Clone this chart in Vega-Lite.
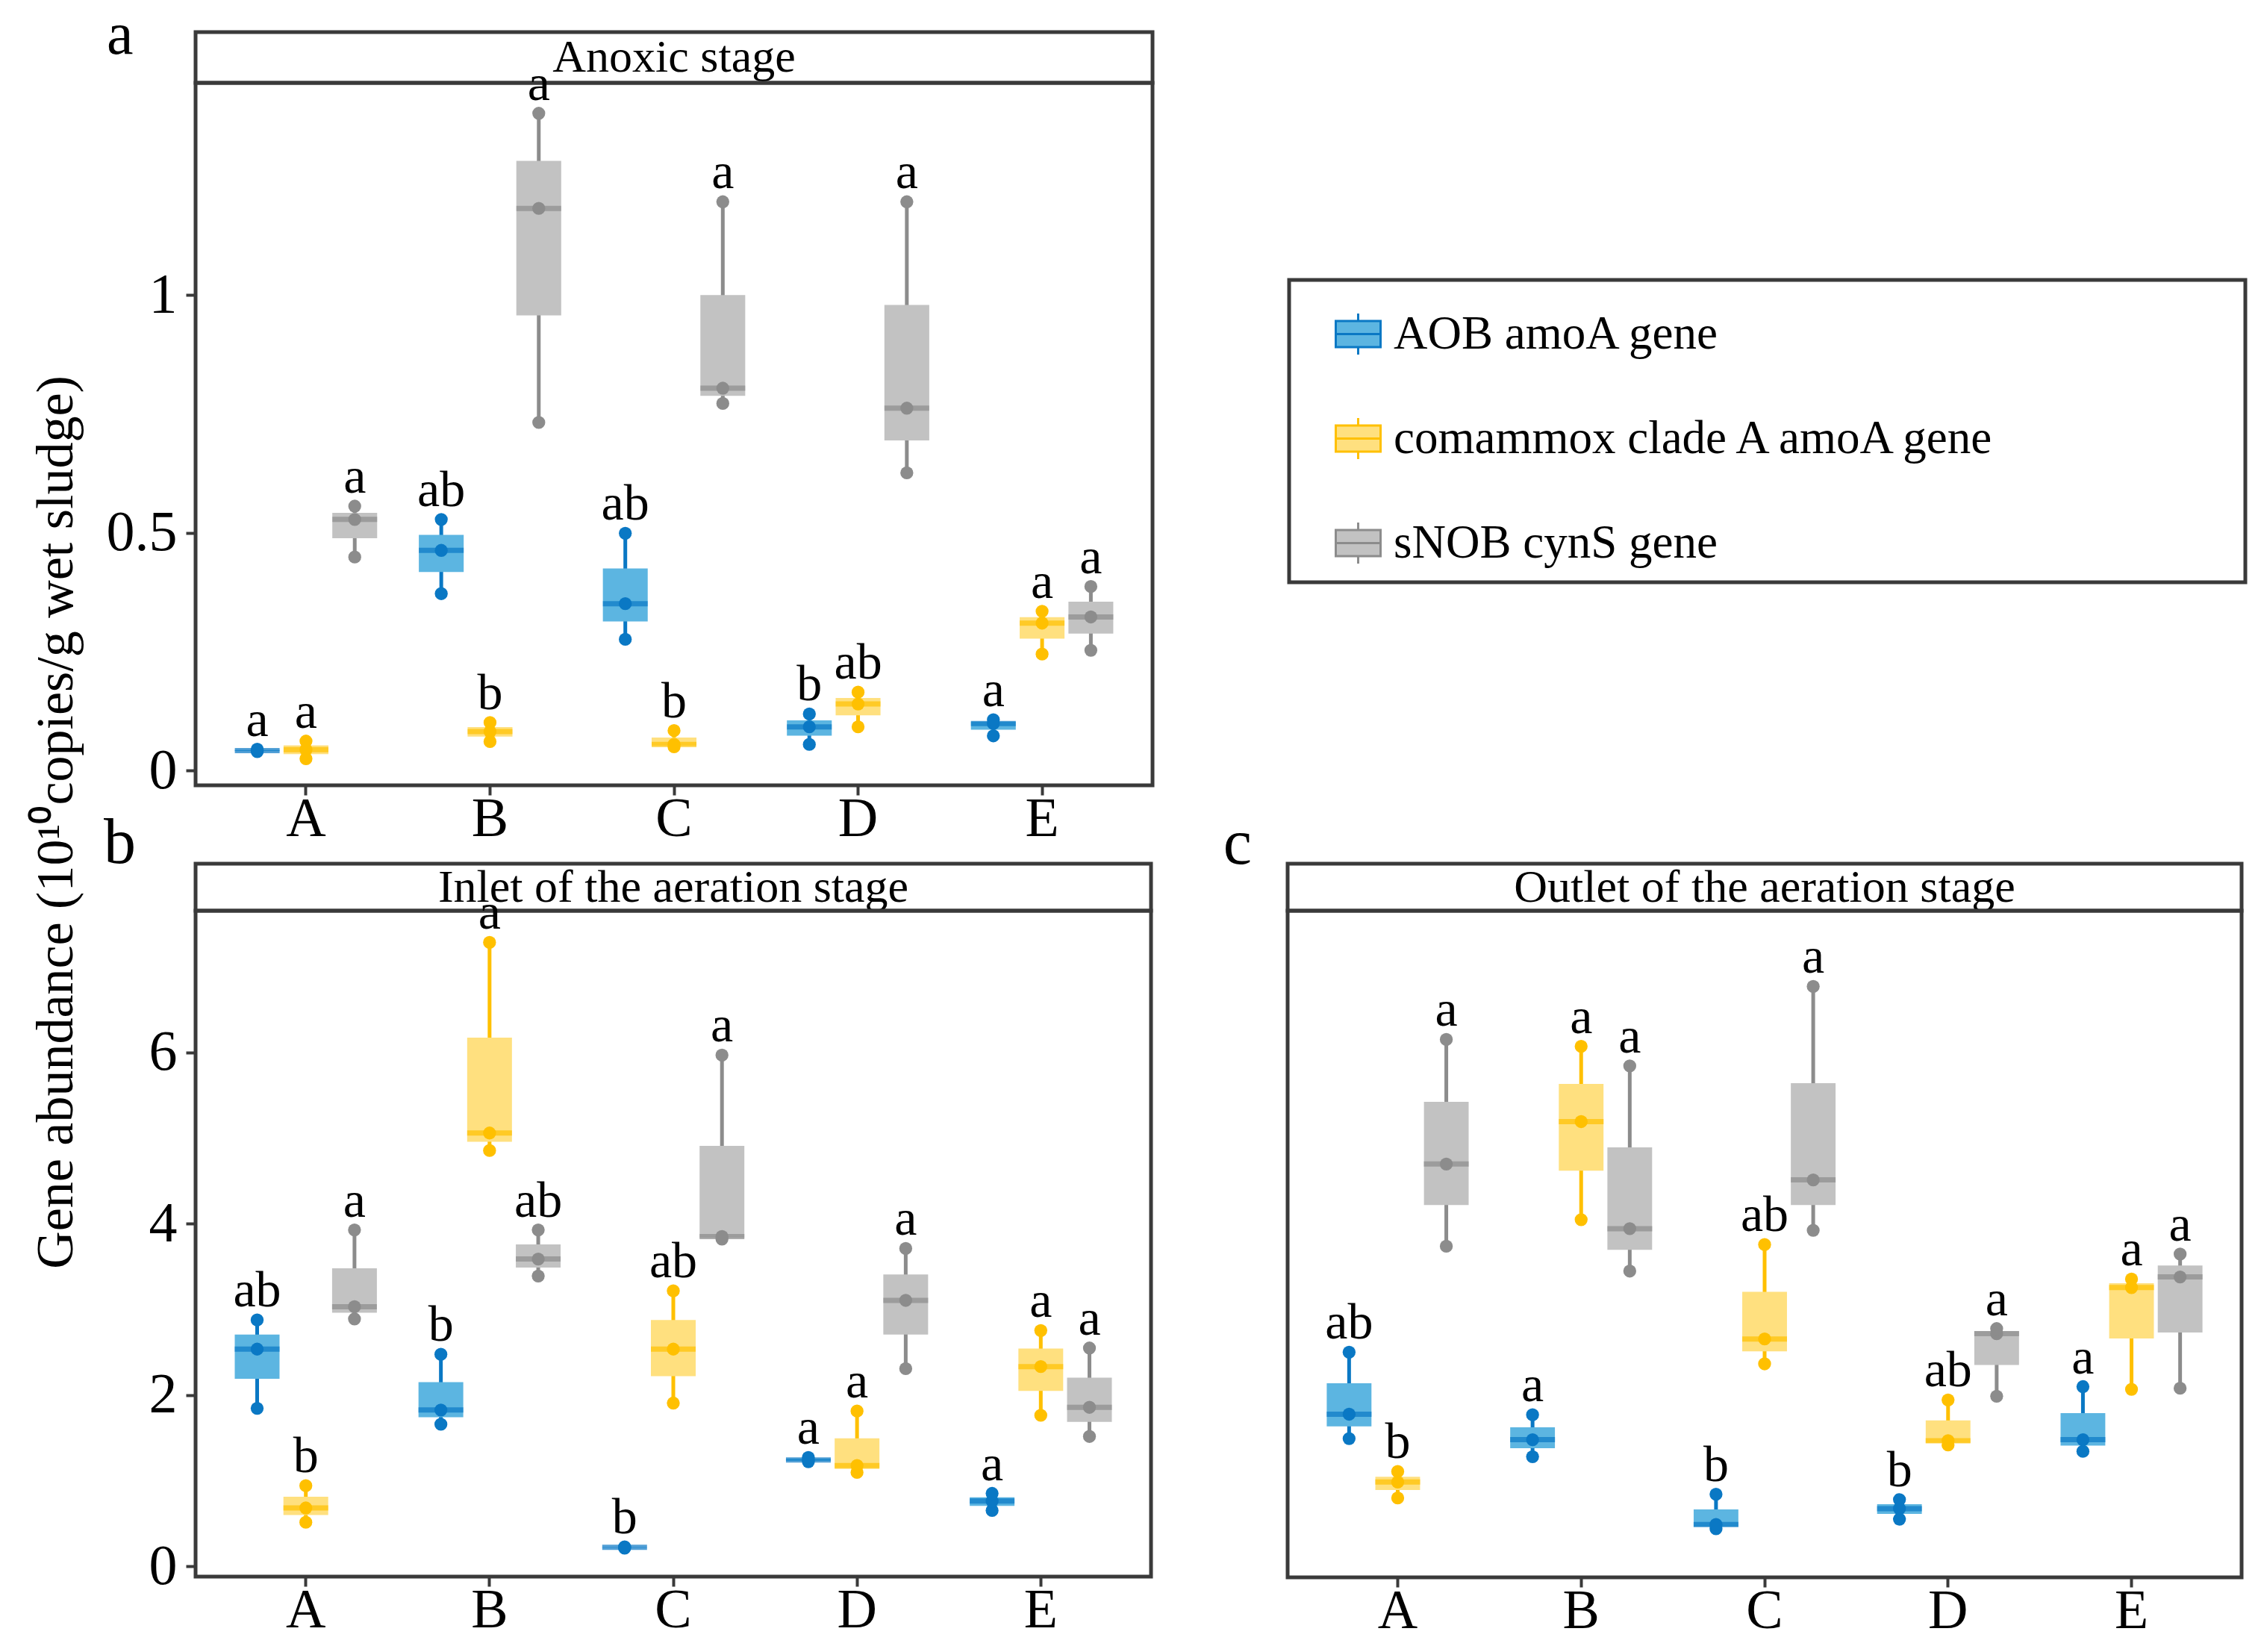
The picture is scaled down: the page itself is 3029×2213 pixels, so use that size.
{
  "$schema": "https://vega.github.io/schema/vega-lite/v6.json",
  "padding": {"left": 40, "top": 5, "right": 0, "bottom": 0},
  "background": "white",
  "config": {
    "font": "Liberation Serif",
    "view": {"stroke": "#3a3a3a", "strokeWidth": 5},
    "axis": {"domain": false, "grid": false, "tickColor": "#3a3a3a", "tickWidth": 4, "tickSize": 13, "labelFont": "Liberation Serif", "labelFontSize": 76, "labelColor": "#000000"},
    "title": {"font": "Liberation Serif", "fontWeight": "normal", "color": "#000000"},
    "text": {"font": "Liberation Serif"}
  },
  "title": {"text": "Gene abundance (10¹⁰copies/g wet sludge)", "orient": "left", "anchor": "middle", "fontSize": 70, "offset": 25},
  "datasets": {
    "abund": [
      {"panel": "a", "site": "A", "gene": "AOB amoA gene", "value": 0.040, "letter": "a"},
      {"panel": "a", "site": "A", "gene": "AOB amoA gene", "value": 0.042, "letter": "a"},
      {"panel": "a", "site": "A", "gene": "AOB amoA gene", "value": 0.045, "letter": "a"},
      {"panel": "a", "site": "A", "gene": "comammox clade A amoA gene", "value": 0.025, "letter": "a"},
      {"panel": "a", "site": "A", "gene": "comammox clade A amoA gene", "value": 0.044, "letter": "a"},
      {"panel": "a", "site": "A", "gene": "comammox clade A amoA gene", "value": 0.062, "letter": "a"},
      {"panel": "a", "site": "A", "gene": "sNOB cynS gene", "value": 0.449, "letter": "a"},
      {"panel": "a", "site": "A", "gene": "sNOB cynS gene", "value": 0.528, "letter": "a"},
      {"panel": "a", "site": "A", "gene": "sNOB cynS gene", "value": 0.556, "letter": "a"},
      {"panel": "a", "site": "B", "gene": "AOB amoA gene", "value": 0.372, "letter": "ab"},
      {"panel": "a", "site": "B", "gene": "AOB amoA gene", "value": 0.463, "letter": "ab"},
      {"panel": "a", "site": "B", "gene": "AOB amoA gene", "value": 0.528, "letter": "ab"},
      {"panel": "a", "site": "B", "gene": "comammox clade A amoA gene", "value": 0.061, "letter": "b"},
      {"panel": "a", "site": "B", "gene": "comammox clade A amoA gene", "value": 0.082, "letter": "b"},
      {"panel": "a", "site": "B", "gene": "comammox clade A amoA gene", "value": 0.101, "letter": "b"},
      {"panel": "a", "site": "B", "gene": "sNOB cynS gene", "value": 0.732, "letter": "a"},
      {"panel": "a", "site": "B", "gene": "sNOB cynS gene", "value": 1.182, "letter": "a"},
      {"panel": "a", "site": "B", "gene": "sNOB cynS gene", "value": 1.382, "letter": "a"},
      {"panel": "a", "site": "C", "gene": "AOB amoA gene", "value": 0.276, "letter": "ab"},
      {"panel": "a", "site": "C", "gene": "AOB amoA gene", "value": 0.351, "letter": "ab"},
      {"panel": "a", "site": "C", "gene": "AOB amoA gene", "value": 0.499, "letter": "ab"},
      {"panel": "a", "site": "C", "gene": "comammox clade A amoA gene", "value": 0.050, "letter": "b"},
      {"panel": "a", "site": "C", "gene": "comammox clade A amoA gene", "value": 0.055, "letter": "b"},
      {"panel": "a", "site": "C", "gene": "comammox clade A amoA gene", "value": 0.084, "letter": "b"},
      {"panel": "a", "site": "C", "gene": "sNOB cynS gene", "value": 0.772, "letter": "a"},
      {"panel": "a", "site": "C", "gene": "sNOB cynS gene", "value": 0.804, "letter": "a"},
      {"panel": "a", "site": "C", "gene": "sNOB cynS gene", "value": 1.196, "letter": "a"},
      {"panel": "a", "site": "D", "gene": "AOB amoA gene", "value": 0.055, "letter": "b"},
      {"panel": "a", "site": "D", "gene": "AOB amoA gene", "value": 0.092, "letter": "b"},
      {"panel": "a", "site": "D", "gene": "AOB amoA gene", "value": 0.119, "letter": "b"},
      {"panel": "a", "site": "D", "gene": "comammox clade A amoA gene", "value": 0.092, "letter": "ab"},
      {"panel": "a", "site": "D", "gene": "comammox clade A amoA gene", "value": 0.140, "letter": "ab"},
      {"panel": "a", "site": "D", "gene": "comammox clade A amoA gene", "value": 0.165, "letter": "ab"},
      {"panel": "a", "site": "D", "gene": "sNOB cynS gene", "value": 0.626, "letter": "a"},
      {"panel": "a", "site": "D", "gene": "sNOB cynS gene", "value": 0.762, "letter": "a"},
      {"panel": "a", "site": "D", "gene": "sNOB cynS gene", "value": 1.196, "letter": "a"},
      {"panel": "a", "site": "E", "gene": "AOB amoA gene", "value": 0.073, "letter": "a"},
      {"panel": "a", "site": "E", "gene": "AOB amoA gene", "value": 0.099, "letter": "a"},
      {"panel": "a", "site": "E", "gene": "AOB amoA gene", "value": 0.107, "letter": "a"},
      {"panel": "a", "site": "E", "gene": "comammox clade A amoA gene", "value": 0.245, "letter": "a"},
      {"panel": "a", "site": "E", "gene": "comammox clade A amoA gene", "value": 0.310, "letter": "a"},
      {"panel": "a", "site": "E", "gene": "comammox clade A amoA gene", "value": 0.335, "letter": "a"},
      {"panel": "a", "site": "E", "gene": "sNOB cynS gene", "value": 0.253, "letter": "a"},
      {"panel": "a", "site": "E", "gene": "sNOB cynS gene", "value": 0.323, "letter": "a"},
      {"panel": "a", "site": "E", "gene": "sNOB cynS gene", "value": 0.387, "letter": "a"},

      {"panel": "b", "site": "A", "gene": "AOB amoA gene", "value": 1.843, "letter": "ab"},
      {"panel": "b", "site": "A", "gene": "AOB amoA gene", "value": 2.535, "letter": "ab"},
      {"panel": "b", "site": "A", "gene": "AOB amoA gene", "value": 2.876, "letter": "ab"},
      {"panel": "b", "site": "A", "gene": "comammox clade A amoA gene", "value": 0.513, "letter": "b"},
      {"panel": "b", "site": "A", "gene": "comammox clade A amoA gene", "value": 0.680, "letter": "b"},
      {"panel": "b", "site": "A", "gene": "comammox clade A amoA gene", "value": 0.940, "letter": "b"},
      {"panel": "b", "site": "A", "gene": "sNOB cynS gene", "value": 2.888, "letter": "a"},
      {"panel": "b", "site": "A", "gene": "sNOB cynS gene", "value": 3.030, "letter": "a"},
      {"panel": "b", "site": "A", "gene": "sNOB cynS gene", "value": 3.927, "letter": "a"},
      {"panel": "b", "site": "B", "gene": "AOB amoA gene", "value": 1.657, "letter": "b"},
      {"panel": "b", "site": "B", "gene": "AOB amoA gene", "value": 1.824, "letter": "b"},
      {"panel": "b", "site": "B", "gene": "AOB amoA gene", "value": 2.474, "letter": "b"},
      {"panel": "b", "site": "B", "gene": "comammox clade A amoA gene", "value": 4.855, "letter": "a"},
      {"panel": "b", "site": "B", "gene": "comammox clade A amoA gene", "value": 5.059, "letter": "a"},
      {"panel": "b", "site": "B", "gene": "comammox clade A amoA gene", "value": 7.285, "letter": "a"},
      {"panel": "b", "site": "B", "gene": "sNOB cynS gene", "value": 3.389, "letter": "ab"},
      {"panel": "b", "site": "B", "gene": "sNOB cynS gene", "value": 3.587, "letter": "ab"},
      {"panel": "b", "site": "B", "gene": "sNOB cynS gene", "value": 3.927, "letter": "ab"},
      {"panel": "b", "site": "C", "gene": "AOB amoA gene", "value": 0.210, "letter": "b"},
      {"panel": "b", "site": "C", "gene": "AOB amoA gene", "value": 0.220, "letter": "b"},
      {"panel": "b", "site": "C", "gene": "AOB amoA gene", "value": 0.225, "letter": "b"},
      {"panel": "b", "site": "C", "gene": "comammox clade A amoA gene", "value": 1.905, "letter": "ab"},
      {"panel": "b", "site": "C", "gene": "comammox clade A amoA gene", "value": 2.535, "letter": "ab"},
      {"panel": "b", "site": "C", "gene": "comammox clade A amoA gene", "value": 3.216, "letter": "ab"},
      {"panel": "b", "site": "C", "gene": "sNOB cynS gene", "value": 3.820, "letter": "a"},
      {"panel": "b", "site": "C", "gene": "sNOB cynS gene", "value": 3.850, "letter": "a"},
      {"panel": "b", "site": "C", "gene": "sNOB cynS gene", "value": 5.968, "letter": "a"},
      {"panel": "b", "site": "D", "gene": "AOB amoA gene", "value": 1.220, "letter": "a"},
      {"panel": "b", "site": "D", "gene": "AOB amoA gene", "value": 1.240, "letter": "a"},
      {"panel": "b", "site": "D", "gene": "AOB amoA gene", "value": 1.270, "letter": "a"},
      {"panel": "b", "site": "D", "gene": "comammox clade A amoA gene", "value": 1.095, "letter": "a"},
      {"panel": "b", "site": "D", "gene": "comammox clade A amoA gene", "value": 1.175, "letter": "a"},
      {"panel": "b", "site": "D", "gene": "comammox clade A amoA gene", "value": 1.812, "letter": "a"},
      {"panel": "b", "site": "D", "gene": "sNOB cynS gene", "value": 2.307, "letter": "a"},
      {"panel": "b", "site": "D", "gene": "sNOB cynS gene", "value": 3.104, "letter": "a"},
      {"panel": "b", "site": "D", "gene": "sNOB cynS gene", "value": 3.710, "letter": "a"},
      {"panel": "b", "site": "E", "gene": "AOB amoA gene", "value": 0.650, "letter": "a"},
      {"panel": "b", "site": "E", "gene": "AOB amoA gene", "value": 0.760, "letter": "a"},
      {"panel": "b", "site": "E", "gene": "AOB amoA gene", "value": 0.850, "letter": "a"},
      {"panel": "b", "site": "E", "gene": "comammox clade A amoA gene", "value": 1.762, "letter": "a"},
      {"panel": "b", "site": "E", "gene": "comammox clade A amoA gene", "value": 2.331, "letter": "a"},
      {"panel": "b", "site": "E", "gene": "comammox clade A amoA gene", "value": 2.752, "letter": "a"},
      {"panel": "b", "site": "E", "gene": "sNOB cynS gene", "value": 1.515, "letter": "a"},
      {"panel": "b", "site": "E", "gene": "sNOB cynS gene", "value": 1.855, "letter": "a"},
      {"panel": "b", "site": "E", "gene": "sNOB cynS gene", "value": 2.548, "letter": "a"},

      {"panel": "c", "site": "A", "gene": "AOB amoA gene", "value": 1.497, "letter": "ab"},
      {"panel": "c", "site": "A", "gene": "AOB amoA gene", "value": 1.781, "letter": "ab"},
      {"panel": "c", "site": "A", "gene": "AOB amoA gene", "value": 2.505, "letter": "ab"},
      {"panel": "c", "site": "A", "gene": "comammox clade A amoA gene", "value": 0.804, "letter": "b"},
      {"panel": "c", "site": "A", "gene": "comammox clade A amoA gene", "value": 0.990, "letter": "b"},
      {"panel": "c", "site": "A", "gene": "comammox clade A amoA gene", "value": 1.113, "letter": "b"},
      {"panel": "c", "site": "A", "gene": "sNOB cynS gene", "value": 3.741, "letter": "a"},
      {"panel": "c", "site": "A", "gene": "sNOB cynS gene", "value": 4.700, "letter": "a"},
      {"panel": "c", "site": "A", "gene": "sNOB cynS gene", "value": 6.153, "letter": "a"},
      {"panel": "c", "site": "B", "gene": "AOB amoA gene", "value": 1.286, "letter": "a"},
      {"panel": "c", "site": "B", "gene": "AOB amoA gene", "value": 1.484, "letter": "a"},
      {"panel": "c", "site": "B", "gene": "AOB amoA gene", "value": 1.775, "letter": "a"},
      {"panel": "c", "site": "B", "gene": "comammox clade A amoA gene", "value": 4.051, "letter": "a"},
      {"panel": "c", "site": "B", "gene": "comammox clade A amoA gene", "value": 5.195, "letter": "a"},
      {"panel": "c", "site": "B", "gene": "comammox clade A amoA gene", "value": 6.073, "letter": "a"},
      {"panel": "c", "site": "B", "gene": "sNOB cynS gene", "value": 3.451, "letter": "a"},
      {"panel": "c", "site": "B", "gene": "sNOB cynS gene", "value": 3.946, "letter": "a"},
      {"panel": "c", "site": "B", "gene": "sNOB cynS gene", "value": 5.844, "letter": "a"},
      {"panel": "c", "site": "C", "gene": "AOB amoA gene", "value": 0.445, "letter": "b"},
      {"panel": "c", "site": "C", "gene": "AOB amoA gene", "value": 0.495, "letter": "b"},
      {"panel": "c", "site": "C", "gene": "AOB amoA gene", "value": 0.847, "letter": "b"},
      {"panel": "c", "site": "C", "gene": "comammox clade A amoA gene", "value": 2.369, "letter": "ab"},
      {"panel": "c", "site": "C", "gene": "comammox clade A amoA gene", "value": 2.659, "letter": "ab"},
      {"panel": "c", "site": "C", "gene": "comammox clade A amoA gene", "value": 3.760, "letter": "ab"},
      {"panel": "c", "site": "C", "gene": "sNOB cynS gene", "value": 3.927, "letter": "a"},
      {"panel": "c", "site": "C", "gene": "sNOB cynS gene", "value": 4.515, "letter": "a"},
      {"panel": "c", "site": "C", "gene": "sNOB cynS gene", "value": 6.772, "letter": "a"},
      {"panel": "c", "site": "D", "gene": "AOB amoA gene", "value": 0.557, "letter": "b"},
      {"panel": "c", "site": "D", "gene": "AOB amoA gene", "value": 0.680, "letter": "b"},
      {"panel": "c", "site": "D", "gene": "AOB amoA gene", "value": 0.785, "letter": "b"},
      {"panel": "c", "site": "D", "gene": "comammox clade A amoA gene", "value": 1.422, "letter": "ab"},
      {"panel": "c", "site": "D", "gene": "comammox clade A amoA gene", "value": 1.472, "letter": "ab"},
      {"panel": "c", "site": "D", "gene": "comammox clade A amoA gene", "value": 1.948, "letter": "ab"},
      {"panel": "c", "site": "D", "gene": "sNOB cynS gene", "value": 1.991, "letter": "a"},
      {"panel": "c", "site": "D", "gene": "sNOB cynS gene", "value": 2.721, "letter": "a"},
      {"panel": "c", "site": "D", "gene": "sNOB cynS gene", "value": 2.780, "letter": "a"},
      {"panel": "c", "site": "E", "gene": "AOB amoA gene", "value": 1.348, "letter": "a"},
      {"panel": "c", "site": "E", "gene": "AOB amoA gene", "value": 1.484, "letter": "a"},
      {"panel": "c", "site": "E", "gene": "AOB amoA gene", "value": 2.103, "letter": "a"},
      {"panel": "c", "site": "E", "gene": "comammox clade A amoA gene", "value": 2.072, "letter": "a"},
      {"panel": "c", "site": "E", "gene": "comammox clade A amoA gene", "value": 3.259, "letter": "a"},
      {"panel": "c", "site": "E", "gene": "comammox clade A amoA gene", "value": 3.358, "letter": "a"},
      {"panel": "c", "site": "E", "gene": "sNOB cynS gene", "value": 2.084, "letter": "a"},
      {"panel": "c", "site": "E", "gene": "sNOB cynS gene", "value": 3.383, "letter": "a"},
      {"panel": "c", "site": "E", "gene": "sNOB cynS gene", "value": 3.649, "letter": "a"}
    ]
  },
  "resolve": {"scale": {"color": "independent", "fill": "independent", "stroke": "independent", "xOffset": "independent"}},
  "spacing": -53,
  "vconcat": [
    {
      "spacing": 177,
      "resolve": {"scale": {"color": "independent", "fill": "independent", "stroke": "independent", "xOffset": "independent"}},
      "hconcat": [
        {
          "spacing": 0,
          "bounds": "flush",
          "resolve": {"scale": {"color": "independent", "fill": "independent", "stroke": "independent", "xOffset": "independent"}},
          "vconcat": [
            {
              "width": 1282, "height": 68,
              "data": {"values": [{"strip": "Anoxic stage"}]},
              "mark": {"type": "text", "fontSize": 62, "baseline": "middle", "align": "center", "color": "#000000"},
              "encoding": {"x": {"field": "strip", "type": "nominal", "axis": null}, "text": {"field": "strip", "type": "nominal"}},
              "title": {"text": "a", "orient": "left", "angle": 0, "align": "right", "baseline": "alphabetic", "anchor": "middle", "offset": 48, "dy": -5, "fontSize": 80}
            },
            {
              "width": 1282, "height": 941,
              "data": {"name": "abund"},
              "transform": [{"filter": "datum.panel == 'a'"}],
              "encoding": {
                "x": {"field": "site", "type": "nominal", "scale": {"domain": ["A", "B", "C", "D", "E"], "paddingInner": 0.2, "paddingOuter": 0.2}, "axis": {"title": null, "labelAngle": 0, "labelPadding": -4, "labelFontSize": 74}},
                "xOffset": {"field": "gene", "type": "nominal", "scale": {"domain": ["AOB amoA gene", "comammox clade A amoA gene", "sNOB cynS gene"], "paddingInner": 0.08, "paddingOuter": 0.05}},
                "color": {"field": "gene", "type": "nominal", "scale": {"domain": ["AOB amoA gene", "comammox clade A amoA gene", "sNOB cynS gene"], "range": ["#0A78C4", "#FFC000", "#8C8C8C"]}, "legend": null}
              },
              "layer": [
                {
                  "transform": [{"aggregate": [{"op": "min", "field": "value", "as": "lo"}, {"op": "q1", "field": "value", "as": "q1"}, {"op": "median", "field": "value", "as": "mid"}, {"op": "q3", "field": "value", "as": "q3"}, {"op": "max", "field": "value", "as": "hi"}], "groupby": ["site", "gene", "letter"]}],
                  "layer": [
                    {"mark": {"type": "rule", "strokeWidth": 5},
                     "encoding": {"y": {"field": "lo", "type": "quantitative", "scale": {"domain": [-0.031, 1.446], "nice": false, "zero": false}, "axis": {"title": null, "values": [0, 0.5, 1], "format": "~g", "labelPadding": 12}}, "y2": {"field": "hi"}}},
                    {"mark": {"type": "bar"},
                     "encoding": {"y": {"field": "q1", "type": "quantitative", "scale": {"domain": [-0.031, 1.446], "nice": false, "zero": false}, "axis": {"title": null, "values": [0, 0.5, 1], "format": "~g", "labelPadding": 12}}, "y2": {"field": "q3"},
                       "fill": {"field": "gene", "type": "nominal", "scale": {"domain": ["AOB amoA gene", "comammox clade A amoA gene", "sNOB cynS gene"], "range": ["#5CB5E1", "#FFE07F", "#C2C2C2"]}, "legend": null}}},
                    {"mark": {"type": "tick", "thickness": 7, "size": 60},
                     "encoding": {"y": {"field": "mid", "type": "quantitative", "scale": {"domain": [-0.031, 1.446], "nice": false, "zero": false}, "axis": {"title": null, "values": [0, 0.5, 1], "format": "~g", "labelPadding": 12}}}},
                    {"mark": {"type": "text", "dy": -18, "baseline": "alphabetic", "fontSize": 68},
                     "encoding": {"y": {"field": "hi", "type": "quantitative", "scale": {"domain": [-0.031, 1.446], "nice": false, "zero": false}, "axis": {"title": null, "values": [0, 0.5, 1], "format": "~g", "labelPadding": 12}}, "text": {"field": "letter", "type": "nominal"}, "color": {"value": "#000000"}}}
                  ]
                },
                {"mark": {"type": "point", "filled": true, "size": 300, "opacity": 1},
                 "encoding": {"y": {"field": "value", "type": "quantitative", "scale": {"domain": [-0.031, 1.446], "nice": false, "zero": false}, "axis": {"title": null, "values": [0, 0.5, 1], "format": "~g", "labelPadding": 12}}}}
              ]
            }
          ]
        },
        {
          "spacing": 0,
          "resolve": {"scale": {"color": "independent", "fill": "independent", "stroke": "independent", "xOffset": "independent"}},
          "vconcat": [
            {"width": 1281, "height": 329, "data": {"values": []}, "mark": "point", "view": {"stroke": null}},
            {
              "width": 1281, "height": 405,
              "data": {"values": []},
              "mark": {"type": "point", "filled": false},
              "encoding": {
                "x": {"field": "gene", "type": "nominal", "axis": null},
                "fill": {"field": "gene", "type": "nominal", "scale": {"domain": ["AOB amoA gene", "comammox clade A amoA gene", "sNOB cynS gene"], "range": ["#5CB5E1", "#FFE07F", "#C2C2C2"]},
                  "legend": {"orient": "none", "legendX": 61, "legendY": 41, "direction": "vertical", "title": null, "padding": 0, "symbolType": "M-1,-0.58H1V0.58H-1Z M0,-0.92V-0.58 M0,0.58V0.92 M-1,0H1", "symbolSize": 3600, "symbolStrokeWidth": 3, "symbolOpacity": 1, "labelFont": "Liberation Serif", "labelFontSize": 63, "labelColor": "#000000", "labelOffset": 16, "labelLimit": 3000, "rowPadding": 71}},
                "stroke": {"field": "gene", "type": "nominal", "scale": {"domain": ["AOB amoA gene", "comammox clade A amoA gene", "sNOB cynS gene"], "range": ["#0A78C4", "#FFC000", "#8C8C8C"]},
                  "legend": {"orient": "none", "legendX": 61, "legendY": 41, "direction": "vertical", "title": null, "padding": 0, "symbolType": "M-1,-0.58H1V0.58H-1Z M0,-0.92V-0.58 M0,0.58V0.92 M-1,0H1", "symbolSize": 3600, "symbolStrokeWidth": 3, "symbolOpacity": 1, "labelFont": "Liberation Serif", "labelFontSize": 63, "labelColor": "#000000", "labelOffset": 16, "labelLimit": 3000, "rowPadding": 71}}
              }
            }
          ]
        }
      ]
    },
    {
      "spacing": 91,
      "resolve": {"scale": {"color": "independent", "fill": "independent", "stroke": "independent", "xOffset": "independent"}},
      "hconcat": [
        {
          "spacing": 0,
          "bounds": "flush",
          "resolve": {"scale": {"color": "independent", "fill": "independent", "stroke": "independent", "xOffset": "independent"}},
          "vconcat": [
            {
              "width": 1280, "height": 63,
              "data": {"values": [{"strip": "Inlet of the aeration stage"}]},
              "mark": {"type": "text", "fontSize": 62, "baseline": "middle", "align": "center", "color": "#000000"},
              "encoding": {"x": {"field": "strip", "type": "nominal", "axis": null}, "text": {"field": "strip", "type": "nominal"}},
              "title": {"text": "b", "orient": "left", "angle": 0, "align": "right", "baseline": "alphabetic", "anchor": "middle", "offset": 37, "dy": -33, "fontSize": 86}
            },
            {
              "width": 1280, "height": 892,
              "data": {"name": "abund"},
              "transform": [{"filter": "datum.panel == 'b'"}],
              "encoding": {
                "x": {"field": "site", "type": "nominal", "scale": {"domain": ["A", "B", "C", "D", "E"], "paddingInner": 0.2, "paddingOuter": 0.2}, "axis": {"title": null, "labelAngle": 0, "labelPadding": -4, "labelFontSize": 74}},
                "xOffset": {"field": "gene", "type": "nominal", "scale": {"domain": ["AOB amoA gene", "comammox clade A amoA gene", "sNOB cynS gene"], "paddingInner": 0.08, "paddingOuter": 0.05}},
                "color": {"field": "gene", "type": "nominal", "scale": {"domain": ["AOB amoA gene", "comammox clade A amoA gene", "sNOB cynS gene"], "range": ["#0A78C4", "#FFC000", "#8C8C8C"]}, "legend": null}
              },
              "layer": [
                {
                  "transform": [{"aggregate": [{"op": "min", "field": "value", "as": "lo"}, {"op": "q1", "field": "value", "as": "q1"}, {"op": "median", "field": "value", "as": "mid"}, {"op": "q3", "field": "value", "as": "q3"}, {"op": "max", "field": "value", "as": "hi"}], "groupby": ["site", "gene", "letter"]}],
                  "layer": [
                    {"mark": {"type": "rule", "strokeWidth": 5},
                     "encoding": {"y": {"field": "lo", "type": "quantitative", "scale": {"domain": [-0.122, 7.655], "nice": false, "zero": false}, "axis": {"title": null, "values": [0, 2, 4, 6], "format": "~g", "labelPadding": 12}}, "y2": {"field": "hi"}}},
                    {"mark": {"type": "bar"},
                     "encoding": {"y": {"field": "q1", "type": "quantitative", "scale": {"domain": [-0.122, 7.655], "nice": false, "zero": false}, "axis": {"title": null, "values": [0, 2, 4, 6], "format": "~g", "labelPadding": 12}}, "y2": {"field": "q3"},
                       "fill": {"field": "gene", "type": "nominal", "scale": {"domain": ["AOB amoA gene", "comammox clade A amoA gene", "sNOB cynS gene"], "range": ["#5CB5E1", "#FFE07F", "#C2C2C2"]}, "legend": null}}},
                    {"mark": {"type": "tick", "thickness": 7, "size": 60},
                     "encoding": {"y": {"field": "mid", "type": "quantitative", "scale": {"domain": [-0.122, 7.655], "nice": false, "zero": false}, "axis": {"title": null, "values": [0, 2, 4, 6], "format": "~g", "labelPadding": 12}}}},
                    {"mark": {"type": "text", "dy": -18, "baseline": "alphabetic", "fontSize": 68},
                     "encoding": {"y": {"field": "hi", "type": "quantitative", "scale": {"domain": [-0.122, 7.655], "nice": false, "zero": false}, "axis": {"title": null, "values": [0, 2, 4, 6], "format": "~g", "labelPadding": 12}}, "text": {"field": "letter", "type": "nominal"}, "color": {"value": "#000000"}}}
                  ]
                },
                {"mark": {"type": "point", "filled": true, "size": 300, "opacity": 1},
                 "encoding": {"y": {"field": "value", "type": "quantitative", "scale": {"domain": [-0.122, 7.655], "nice": false, "zero": false}, "axis": {"title": null, "values": [0, 2, 4, 6], "format": "~g", "labelPadding": 12}}}}
              ]
            }
          ]
        },
        {
          "spacing": 0,
          "bounds": "flush",
          "resolve": {"scale": {"color": "independent", "fill": "independent", "stroke": "independent", "xOffset": "independent"}},
          "vconcat": [
            {
              "width": 1278, "height": 63,
              "data": {"values": [{"strip": "Outlet of the aeration stage"}]},
              "mark": {"type": "text", "fontSize": 62, "baseline": "middle", "align": "center", "color": "#000000"},
              "encoding": {"x": {"field": "strip", "type": "nominal", "axis": null}, "text": {"field": "strip", "type": "nominal"}},
              "title": {"text": "c", "orient": "left", "angle": 0, "align": "right", "baseline": "alphabetic", "anchor": "middle", "offset": 10, "dy": -32, "fontSize": 86}
            },
            {
              "width": 1278, "height": 893,
              "data": {"name": "abund"},
              "transform": [{"filter": "datum.panel == 'c'"}],
              "encoding": {
                "x": {"field": "site", "type": "nominal", "scale": {"domain": ["A", "B", "C", "D", "E"], "paddingInner": 0.2, "paddingOuter": 0.2}, "axis": {"title": null, "labelAngle": 0, "labelPadding": -4, "labelFontSize": 74}},
                "xOffset": {"field": "gene", "type": "nominal", "scale": {"domain": ["AOB amoA gene", "comammox clade A amoA gene", "sNOB cynS gene"], "paddingInner": 0.08, "paddingOuter": 0.05}},
                "color": {"field": "gene", "type": "nominal", "scale": {"domain": ["AOB amoA gene", "comammox clade A amoA gene", "sNOB cynS gene"], "range": ["#0A78C4", "#FFC000", "#8C8C8C"]}, "legend": null}
              },
              "layer": [
                {
                  "transform": [{"aggregate": [{"op": "min", "field": "value", "as": "lo"}, {"op": "q1", "field": "value", "as": "q1"}, {"op": "median", "field": "value", "as": "mid"}, {"op": "q3", "field": "value", "as": "q3"}, {"op": "max", "field": "value", "as": "hi"}], "groupby": ["site", "gene", "letter"]}],
                  "layer": [
                    {"mark": {"type": "rule", "strokeWidth": 5},
                     "encoding": {"y": {"field": "lo", "type": "quantitative", "scale": {"domain": [-0.122, 7.655], "nice": false, "zero": false}, "axis": null}, "y2": {"field": "hi"}}},
                    {"mark": {"type": "bar"},
                     "encoding": {"y": {"field": "q1", "type": "quantitative", "scale": {"domain": [-0.122, 7.655], "nice": false, "zero": false}, "axis": null}, "y2": {"field": "q3"},
                       "fill": {"field": "gene", "type": "nominal", "scale": {"domain": ["AOB amoA gene", "comammox clade A amoA gene", "sNOB cynS gene"], "range": ["#5CB5E1", "#FFE07F", "#C2C2C2"]}, "legend": null}}},
                    {"mark": {"type": "tick", "thickness": 7, "size": 60},
                     "encoding": {"y": {"field": "mid", "type": "quantitative", "scale": {"domain": [-0.122, 7.655], "nice": false, "zero": false}, "axis": null}}},
                    {"mark": {"type": "text", "dy": -18, "baseline": "alphabetic", "fontSize": 68},
                     "encoding": {"y": {"field": "hi", "type": "quantitative", "scale": {"domain": [-0.122, 7.655], "nice": false, "zero": false}, "axis": null}, "text": {"field": "letter", "type": "nominal"}, "color": {"value": "#000000"}}}
                  ]
                },
                {"mark": {"type": "point", "filled": true, "size": 300, "opacity": 1},
                 "encoding": {"y": {"field": "value", "type": "quantitative", "scale": {"domain": [-0.122, 7.655], "nice": false, "zero": false}, "axis": null}}}
              ]
            }
          ]
        }
      ]
    }
  ]
}
